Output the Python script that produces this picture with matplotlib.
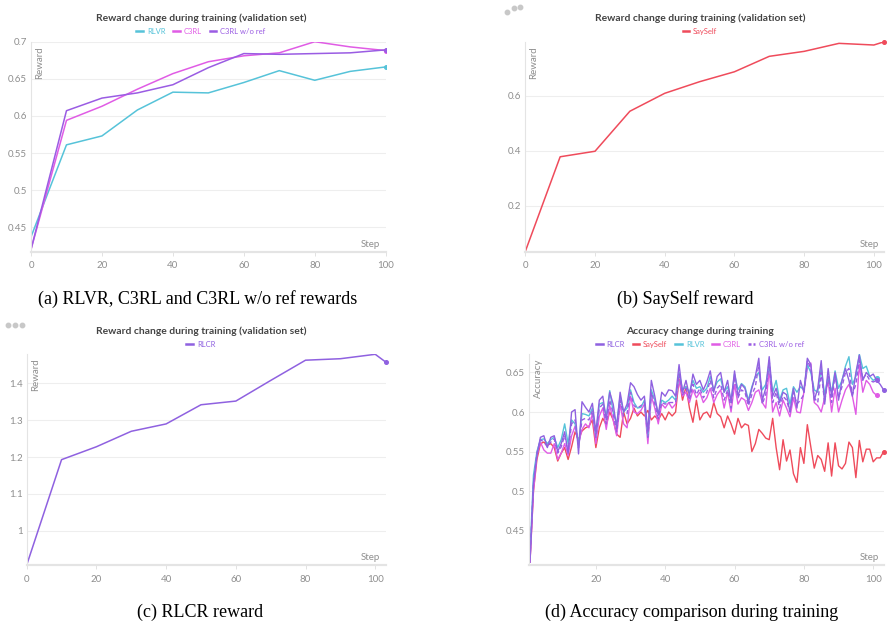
import numpy as np
import matplotlib.pyplot as plt
from matplotlib.lines import Line2D

plt.rcParams['font.family'] = ['Lato', 'DejaVu Sans']

W, H = 892, 629

# (a) validation reward, RLVR / C3RL / C3RL w/o ref
val_steps = [0, 10, 20, 30, 40, 50, 60, 70, 80, 90, 100]
rlvr_reward = [0.437, 0.561, 0.573, 0.608, 0.632, 0.631, 0.645, 0.661, 0.648, 0.660, 0.666]
c3rl_reward = [0.420, 0.594, 0.613, 0.636, 0.657, 0.673, 0.681, 0.685, 0.700, 0.693, 0.688]
c3rl_noref_reward = [0.420, 0.607, 0.624, 0.631, 0.642, 0.665, 0.684, 0.683, 0.684, 0.685, 0.689]

# (b) SaySelf validation reward
long_steps = [0, 10, 20, 30, 40, 50, 60, 70, 80, 90, 100, 103]
sayself_reward = [0.035, 0.378, 0.398, 0.543, 0.608, 0.650, 0.686, 0.742, 0.760, 0.789, 0.783, 0.795]

# (c) RLCR validation reward
rlcr_reward = [0.907, 1.193, 1.228, 1.270, 1.290, 1.342, 1.352, 1.408, 1.463, 1.467, 1.479, 1.458]

# (d) accuracy per training step (steps start at 1)
acc_rlcr = [
    0.410, 0.510, 0.545, 0.568, 0.570, 0.555, 0.568, 0.570, 0.550, 0.560,
    0.575, 0.548, 0.600, 0.603, 0.547, 0.613, 0.606, 0.600, 0.611, 0.575,
    0.615, 0.620, 0.590, 0.625, 0.610, 0.580, 0.625, 0.600, 0.610, 0.637,
    0.632, 0.622, 0.615, 0.620, 0.575, 0.640, 0.620, 0.596, 0.625, 0.620,
    0.628, 0.627, 0.620, 0.660, 0.625, 0.640, 0.620, 0.648, 0.635, 0.640,
    0.628, 0.638, 0.652, 0.625, 0.645, 0.650, 0.625, 0.640, 0.612, 0.652,
    0.620, 0.635, 0.630, 0.612, 0.630, 0.645, 0.668, 0.615, 0.630, 0.670,
    0.620, 0.630, 0.612, 0.625, 0.622, 0.600, 0.630, 0.605, 0.640, 0.625,
    0.668, 0.660, 0.615, 0.630, 0.665, 0.610, 0.655, 0.620, 0.650, 0.615,
    0.640, 0.655, 0.640, 0.620, 0.650, 0.672, 0.640, 0.650, 0.645, 0.648,
    0.640, 0.635, 0.628]
acc_sayself = [
    0.410, 0.500, 0.540, 0.560, 0.562, 0.558, 0.560, 0.555, 0.538, 0.548,
    0.555, 0.540, 0.556, 0.575, 0.565, 0.576, 0.580, 0.582, 0.590, 0.555,
    0.580, 0.592, 0.584, 0.600, 0.590, 0.572, 0.568, 0.600, 0.585, 0.592,
    0.605, 0.595, 0.600, 0.595, 0.602, 0.590, 0.595, 0.590, 0.598, 0.590,
    0.600, 0.595, 0.600, 0.642, 0.615, 0.632, 0.605, 0.587, 0.615, 0.590,
    0.598, 0.600, 0.593, 0.612, 0.598, 0.594, 0.580, 0.595, 0.585, 0.572,
    0.592, 0.580, 0.585, 0.583, 0.550, 0.560, 0.578, 0.573, 0.567, 0.565,
    0.592, 0.555, 0.527, 0.565, 0.538, 0.552, 0.522, 0.511, 0.555, 0.535,
    0.584, 0.556, 0.529, 0.545, 0.540, 0.525, 0.561, 0.519, 0.561, 0.532,
    0.528, 0.535, 0.562, 0.555, 0.517, 0.564, 0.537, 0.553, 0.553, 0.537,
    0.542, 0.542, 0.550]
acc_rlvr = [
    0.420, 0.520, 0.550, 0.565, 0.566, 0.560, 0.565, 0.568, 0.555, 0.565,
    0.585, 0.560, 0.590, 0.585, 0.560, 0.598, 0.597, 0.595, 0.605, 0.570,
    0.610, 0.612, 0.595, 0.627, 0.600, 0.585, 0.620, 0.600, 0.605, 0.628,
    0.612, 0.605, 0.606, 0.615, 0.570, 0.628, 0.615, 0.598, 0.615, 0.612,
    0.615, 0.620, 0.615, 0.650, 0.628, 0.632, 0.625, 0.640, 0.630, 0.632,
    0.625, 0.630, 0.645, 0.628, 0.638, 0.642, 0.625, 0.632, 0.615, 0.648,
    0.628, 0.636, 0.632, 0.615, 0.632, 0.645, 0.650, 0.628, 0.635, 0.660,
    0.625, 0.640, 0.615, 0.628, 0.630, 0.610, 0.632, 0.625, 0.632, 0.628,
    0.660, 0.650, 0.628, 0.625, 0.655, 0.622, 0.645, 0.625, 0.652, 0.630,
    0.640, 0.658, 0.670, 0.635, 0.645, 0.673, 0.655, 0.658, 0.645, 0.640,
    0.643]
acc_c3rl = [
    0.410, 0.500, 0.545, 0.562, 0.552, 0.548, 0.548, 0.560, 0.540, 0.548,
    0.560, 0.545, 0.570, 0.582, 0.560, 0.578, 0.585, 0.580, 0.598, 0.560,
    0.595, 0.605, 0.578, 0.608, 0.590, 0.570, 0.610, 0.585, 0.580, 0.620,
    0.600, 0.598, 0.602, 0.610, 0.560, 0.620, 0.605, 0.585, 0.610, 0.605,
    0.612, 0.605, 0.610, 0.640, 0.620, 0.625, 0.612, 0.628, 0.618, 0.625,
    0.612, 0.618, 0.630, 0.612, 0.622, 0.628, 0.605, 0.625, 0.600, 0.635,
    0.610, 0.618, 0.615, 0.602, 0.612, 0.625, 0.628, 0.612, 0.605, 0.655,
    0.600, 0.612, 0.595, 0.615, 0.605, 0.594, 0.618, 0.600, 0.599, 0.625,
    0.655, 0.662, 0.612, 0.608, 0.600, 0.618, 0.640, 0.600, 0.630, 0.600,
    0.615, 0.628, 0.635, 0.620, 0.597, 0.660, 0.625, 0.640, 0.635, 0.625,
    0.621]
acc_c3rl_noref = [
    0.415, 0.510, 0.548, 0.565, 0.562, 0.556, 0.562, 0.566, 0.548, 0.556,
    0.570, 0.550, 0.585, 0.590, 0.555, 0.590, 0.592, 0.590, 0.602, 0.568,
    0.605, 0.610, 0.585, 0.615, 0.598, 0.575, 0.615, 0.595, 0.598, 0.625,
    0.608, 0.605, 0.608, 0.612, 0.568, 0.625, 0.610, 0.592, 0.612, 0.610,
    0.612, 0.612, 0.612, 0.648, 0.622, 0.630, 0.615, 0.635, 0.622, 0.630,
    0.618, 0.625, 0.640, 0.618, 0.630, 0.635, 0.615, 0.628, 0.605, 0.645,
    0.618, 0.628, 0.625, 0.608, 0.622, 0.632, 0.660, 0.610, 0.622, 0.665,
    0.612, 0.625, 0.605, 0.620, 0.615, 0.600, 0.625, 0.610, 0.615, 0.622,
    0.665, 0.655, 0.618, 0.612, 0.650, 0.612, 0.645, 0.612, 0.648, 0.618,
    0.632, 0.650, 0.655, 0.622, 0.635, 0.665, 0.642, 0.648, 0.640, 0.638,
    0.640]

assert len(acc_rlcr) == 103 and len(acc_sayself) == 103
assert len(acc_rlvr) == 101 and len(acc_c3rl) == 101 and len(acc_c3rl_noref) == 101

# colours
C_RLVR = '#56c3d9'
C_C3RL = '#e05ce5'
C_NOREF = '#9a5ce3'
C_SAY = '#ef4b5b'
C_RLCR = '#8f61e0'
GRID = '#eeeeee'
TICK = '#8e8e8e'


def px_axes(left, top, right, bottom):
    return fig.add_axes([left / W, 1 - bottom / H, (right - left) / W, (bottom - top) / H])


def style(ax, xlim, ylim, xticks, yticks, yticklabels, ylab):
    ax.set_xlim(*xlim)
    ax.set_ylim(*ylim)
    ax.set_xticks(xticks)
    ax.set_xticklabels([str(t) for t in xticks])
    ax.set_yticks(yticks)
    ax.set_yticklabels(yticklabels)
    for s in ('top', 'right'):
        ax.spines[s].set_visible(False)
    ax.spines['left'].set_color('#e4e4e4')
    ax.spines['left'].set_linewidth(0.8)
    ax.spines['bottom'].set_color('#e4e4e4')
    ax.spines['bottom'].set_linewidth(1.6)
    ax.grid(axis='y', color=GRID, lw=0.8)
    ax.set_axisbelow(True)
    ax.tick_params(axis='y', length=0, pad=3, labelsize=7, labelcolor=TICK)
    ax.tick_params(axis='x', length=3, width=0.6, color='#dddddd', pad=4,
                   labelsize=7, labelcolor=TICK)
    ax.text(0.012, 0.98, ylab, rotation=90, va='top', ha='left', fontsize=7,
            color=TICK, transform=ax.transAxes)
    ax.text(0.985, 0.015, 'Step', va='bottom', ha='right', fontsize=7,
            color=TICK, transform=ax.transAxes)


def header(ax, cx, ty, ly, title, handles, labels, colors):
    fig.text(cx / W, 1 - ty / H, title, ha='center', va='center', fontsize=7.4,
             fontweight='bold', color='#444444')
    leg = ax.legend(handles, labels, loc='center', bbox_to_anchor=(cx / W, 1 - ly / H),
                    bbox_transform=fig.transFigure, ncol=len(labels), frameon=False,
                    handlelength=0.9, handletextpad=0.5, columnspacing=1.0,
                    fontsize=5.5, borderaxespad=0, borderpad=0)
    for t, c in zip(leg.get_texts(), colors):
        t.set_color(c)


def proxy(c, ls='-'):
    if ls == '-':
        return Line2D([], [], color=c, lw=1.8)
    return Line2D([], [], color=c, lw=1.8, ls=(0, (1.2, 0.8)))


fig = plt.figure(figsize=(W / 100, H / 100), dpi=100)

# ---- (a)
ax = px_axes(31, 41.7, 385.7, 251.7)
for y, c in [(rlvr_reward, C_RLVR), (c3rl_reward, C_C3RL), (c3rl_noref_reward, C_NOREF)]:
    ax.plot(val_steps, y, color=c, lw=1.1)
    ax.plot(val_steps[-1], y[-1], 'o', color=c, ms=2.6)
style(ax, (0, 100), (0.417, 0.7), [0, 20, 40, 60, 80, 100],
      [0.45, 0.5, 0.55, 0.6, 0.65, 0.7], ['0.45', '0.5', '0.55', '0.6', '0.65', '0.7'], 'Reward')
header(ax, 201, 18.3, 31.5, 'Reward change during training (validation set)',
       [proxy(C_RLVR), proxy(C_C3RL), proxy(C_NOREF)], ['RLVR', 'C3RL', 'C3RL w/o ref'],
       [C_RLVR, C_C3RL, C_NOREF])

# ---- (b)
ax = px_axes(525.3, 41.7, 884.3, 251.7)
ax.plot(long_steps, sayself_reward, color=C_SAY, lw=1.1)
ax.plot(long_steps[-1], sayself_reward[-1], 'o', color=C_SAY, ms=2.6, clip_on=False)
style(ax, (0, 103), (0.034, 0.795), [0, 20, 40, 60, 80, 100],
      [0.2, 0.4, 0.6], ['0.2', '0.4', '0.6'], 'Reward')
header(ax, 700, 18.3, 31.5, 'Reward change during training (validation set)',
       [proxy(C_SAY)], ['SaySelf'], [C_SAY])

# ---- (c)
ax = px_axes(26.7, 354.3, 385.7, 565)
ax.plot(long_steps, rlcr_reward, color=C_RLCR, lw=1.1)
ax.plot(long_steps[-1], rlcr_reward[-1], 'o', color=C_RLCR, ms=2.6, clip_on=False)
style(ax, (0, 103), (0.907, 1.479), [0, 20, 40, 60, 80, 100],
      [1.0, 1.1, 1.2, 1.3, 1.4], ['1', '1.1', '1.2', '1.3', '1.4'], 'Reward')
header(ax, 201, 331, 344.3, 'Reward change during training (validation set)',
       [proxy(C_RLCR)], ['RLCR'], [C_RLCR])

# ---- (d)
ax = px_axes(529.3, 354.3, 884.3, 565)
series_d = [
    (acc_sayself, C_SAY, '-'),
    (acc_c3rl, C_C3RL, '-'),
    (acc_rlvr, C_RLVR, '-'),
    (acc_c3rl_noref, C_NOREF, '--'),
    (acc_rlcr, C_RLCR, '-'),
]
for y, c, ls in series_d:
    steps = np.arange(1, len(y) + 1)
    if ls == '--':
        ax.plot(steps, y, color=c, lw=1.0, ls=(0, (3, 2)))
    else:
        ax.plot(steps, y, color=c, lw=1.0)
    ax.plot(steps[-1], y[-1], 'o', color=c, ms=2.6, clip_on=False)
style(ax, (0.8, 103.2), (0.4065, 0.673), [20, 40, 60, 80, 100],
      [0.45, 0.5, 0.55, 0.6, 0.65], ['0.45', '0.5', '0.55', '0.6', '0.65'], 'Accuracy')
header(ax, 700, 331, 344.3, 'Accuracy change during training',
       [proxy(C_RLCR), proxy(C_SAY), proxy(C_RLVR), proxy(C_C3RL), proxy(C_NOREF, ':')],
       ['RLCR', 'SaySelf', 'RLVR', 'C3RL', 'C3RL w/o ref'],
       [C_RLCR, C_SAY, C_RLVR, C_C3RL, C_NOREF])

# panel menu dots
for xs, ys in [([507, 513.7, 520], [12.3, 7.7, 7.3]), ([8.3, 15, 21.7], [325, 325, 325])]:
    fig.add_artist(Line2D([x / W for x in xs], [1 - y / H for y in ys], ls='none',
                          marker='o', ms=3.2, color='#c8c8c8', transform=fig.transFigure))

# captions
caps = [(198, 299, '(a) RLVR, C3RL and C3RL w/o ref rewards'),
        (685, 299, '(b) SaySelf reward'),
        (200, 612, '(c) RLCR reward'),
        (692, 612, '(d) Accuracy comparison during training')]
for cx, cy, t in caps:
    fig.text(cx / W, 1 - cy / H, t, ha='center', va='center', fontsize=13,
             family='Liberation Serif', color='black')

fig.savefig('out.png', dpi=100)
